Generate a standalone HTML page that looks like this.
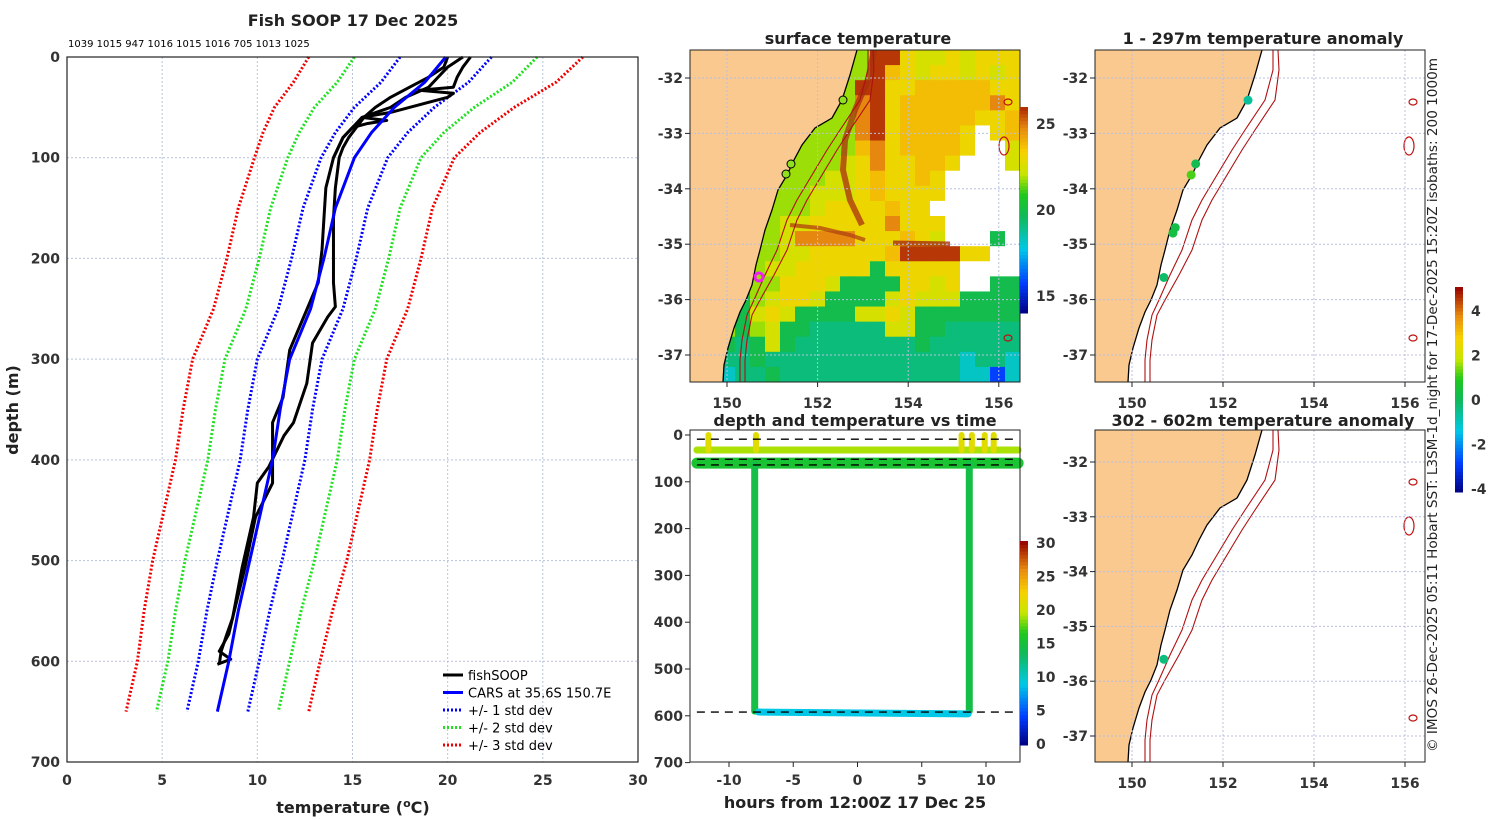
<!DOCTYPE html>
<html><head><meta charset="utf-8"><style>
body{margin:0;background:#fff;}
svg{display:block;font-family:"DejaVu Sans","Liberation Sans",sans-serif;}
.t{font-weight:bold;font-size:16px;fill:#222;}
.tk{font-weight:bold;font-size:14px;fill:#333;}
</style></head><body>
<svg id="fig" width="1500" height="820" viewBox="0 0 1500 820" xmlns="http://www.w3.org/2000/svg">
<g id="left"></g>
<g id="sst"></g>
<g id="dt"></g>
<g id="an1"></g>
<g id="an2"></g>
<text x="1437" y="405" transform="rotate(-90 1437 405)" text-anchor="middle" font-size="13.6" fill="#222">© IMOS 26-Dec-2025 05:11 Hobart SST: L3SM-1d_night for 17-Dec-2025 15:20Z isobaths: 200  1000m</text>
</svg>
<script>
// ---------- Profile data ----------
const carsDepth=[0,25,50,75,100,150,200,250,300,350,400,450,500,550,600,650];
const carsTemp=[19.9,18.8,17.2,16.0,15.1,14.1,13.5,12.8,11.7,11.2,10.8,10.2,9.6,9.0,8.5,7.9];
const carsStd=[2.4,2.3,2.1,1.9,1.75,1.7,1.7,1.7,1.7,1.7,1.7,1.7,1.7,1.65,1.6,1.6];
const p1Depth=[0,10,20,30,40,50,60,70,80,90,100,130,160,191,224,248,258,284,324,363,376,407,423,457,507,557,573,590,603];
const p1Temp=[20.0,19.8,19.0,18.0,17.0,16.2,15.6,15.2,14.8,14.5,14.3,14.1,14.0,14.0,14.0,14.1,13.7,12.9,12.6,11.9,11.4,10.6,10.0,9.8,9.2,8.7,8.4,8.1,8.0];
const p2Depth=[0,10,20,30,40,50,60,70,80,100,130,160,191,224,291,338,363,423,457,507,557,573,590,598,603];
const p2Temp=[20.8,20.0,19.5,19.0,17.8,17.0,15.5,15.0,14.5,14.0,13.6,13.5,13.4,13.2,11.7,11.35,10.8,10.8,9.9,9.35,8.7,8.5,8.0,8.6,7.9];
const p3Depth=[0,10,20,30,33,36,40,45,55,60,63,66,70,80,100];
const p3Temp=[21.2,20.8,20.5,20.3,18.5,20.3,20.0,19.0,17.0,15.5,16.8,15.8,15.0,14.5,14.0];
const castTemps=["1039","1015","947","1016","1015","1016","705","1013","1025"];
const xTicks=[0,5,10,15,20,25,30];
const yTicks=[0,100,200,300,400,500,600,700];

// ---------- SST map grid (codes -> temperature) ----------
const sstRows=[
"LLLLLLLLLLLejjgffgfggg","LLLLLLLLLLLejhgfggfgfg","LLLLLLLLLLejjgghhhhhgg","LLLLLLLLLLeijghhhhhhig",
"LLLLLLLLLeeijghhhhhggh","LLLLLLLLeeeijghhhhgWgh","LLLLLLLeeeehighhhhgWWf","LLLLLLLeeefgigghhgWWWf",
"LLLLLLeeeffghgghgWWWWW","LLLLLLeefffghggggWWWWW","LLLLLeeefgggghggWWWWWW","LLLLLeffgggggigggWWWWW",
"LLLLLefiiiiggghgfWWWdW","LLLLLeffggggghjjjjggWW","LLLLeffgggggdgggggWWWW","LLLLeegggfddddggfgWWdd",
"LLLdefggfddddfgfffdddd","LLLdfgfddddffgfddddddd","LLLdefddcccccffddccccc","LLdcdfdccccccccdcccccc",
"LLccdcccccccccccccbccb","LLbccdccccccccccccbbab"];
const codeTemp={a:15.8,b:18.2,c:19.2,d:19.9,e:21.8,f:22.5,g:23.1,h:23.8,i:24.8,j:25.8};
const sstTicks=[15,20,25];
// anomaly dots (lon, lat, anomaly)
const an1Lon=[152.55,151.4,151.3,150.95,150.9,150.7];
const an1Lat=[-32.4,-33.55,-33.75,-34.7,-34.8,-35.6];
const an1Val=[-0.6,0.2,1.2,0.3,0.4,-0.1];
const an2Lon=[150.7];const an2Lat=[-35.6];const an2Val=[-0.3];
const anTicks=[4,2,0,-2,-4];
// depth-time
const dtTicks=[0,100,200,300,400,500,600,700];
const hTicks=[-10,-5,0,5,10];
const tTicks=[0,5,10,15,20,25,30];
const segT0=[-12.5,-12.5,-8.0,8.7,-7.7];
const segT1=[12.5,12.5,-8.0,8.7,8.6];
const segD0=[32,60,62,62,592];
const segD1=[32,60,590,590,596];
const segTemp=[19.0,15.5,14.5,14.5,9.0];
const stubT=[-11.6,-7.9,8.1,8.9,9.9,10.6];
const dashD=[9,52,64,592];

const NS="http://www.w3.org/2000/svg";
function mk(p,tag,a,txt){const e=document.createElementNS(NS,tag);for(const k in a)e.setAttribute(k,a[k]);if(txt!==undefined)e.textContent=txt;p.appendChild(e);return e;}
function jet(v){
 const st=[[0,[0,0,128]],[0.14,[0,60,255]],[0.3,[0,200,230]],[0.45,[16,185,90]],[0.55,[30,200,30]],[0.65,[200,230,0]],[0.75,[248,210,0]],[0.86,[232,140,16]],[1,[150,0,0]]];
 v=Math.max(0,Math.min(1,v));
 for(let i=1;i<st.length;i++){if(v<=st[i][0]){const f=(v-st[i-1][0])/(st[i][0]-st[i-1][0]);const a=st[i-1][1],b=st[i][1];return `rgb(${a.map((x,j)=>Math.round(x+(b[j]-x)*f)).join(',')})`;}}
 return 'rgb(150,0,0)';
}
// ===== Left panel =====
const L=document.getElementById('left');
const X0=67,X1=638,Y0=57,Y1=762;
const xs=t=>X0+t*(X1-X0)/30, ys=d=>Y0+d*(Y1-Y0)/700;
xTicks.forEach(t=>{if(t>0&&t<30){const g=mk(L,'line',{x1:xs(t),x2:xs(t),y1:Y0,y2:Y1,stroke:'#b8c4dc','stroke-dasharray':'2 2','stroke-width':1});}
 const e=mk(L,'text',{x:xs(t),y:Y1+23,'text-anchor':'middle',class:'tk'},t);});
yTicks.forEach(d=>{if(d>0&&d<700){const g=mk(L,'line',{x1:X0,x2:X1,y1:ys(d),y2:ys(d),stroke:'#b8c4dc','stroke-dasharray':'2 2','stroke-width':1});}
 const e=mk(L,'text',{x:X0-7,y:ys(d)+5,'text-anchor':'end',class:'tk'},d);});
function poly(pts,attrs,name){const e=mk(L,'polyline',Object.assign({points:pts.map(p=>p.join(',')).join(' '),fill:'none'},attrs));return e;}
[[3,'#f00000','std3'],[2,'#20e020','std2'],[1,'#0000ff','std1']].forEach(([k,c,n])=>{
 poly(carsDepth.map((d,i)=>[xs(carsTemp[i]+k*carsStd[i]),ys(d)]),{stroke:c,'stroke-width':3,'stroke-dasharray':'2 2'},'cars-plus-'+n);
 poly(carsDepth.map((d,i)=>[xs(carsTemp[i]-k*carsStd[i]),ys(d)]),{stroke:c,'stroke-width':3,'stroke-dasharray':'2 2'},'cars-minus-'+n);
});
[[p1Depth,p1Temp],[p2Depth,p2Temp],[p3Depth,p3Temp]].forEach(([D,T],k)=>poly(D.map((d,i)=>[xs(T[i]),ys(d)]),{stroke:'#000','stroke-width':3,'stroke-linejoin':'round'},'fishsoop-profile-'+(k+1)));
poly(carsDepth.map((d,i)=>[xs(carsTemp[i]),ys(d)]),{stroke:'#0000ff','stroke-width':3},'cars-profile');
{const e=mk(L,'rect',{x:X0,y:Y0,width:X1-X0,height:Y1-Y0,fill:'none',stroke:'#222','stroke-width':1.2});}
{const e=mk(L,'text',{x:353,y:26,'text-anchor':'middle',class:'t','font-size':17},'Fish SOOP 17 Dec 2025');}
{const e=mk(L,'text',{x:68,y:47,'font-size':10,fill:'#000'},castTemps.join(' '));}
{const e=mk(L,'text',{x:353,y:813,'text-anchor':'middle',class:'t'});
 e.innerHTML='temperature (<tspan dy="-6" font-size="11">o</tspan><tspan dy="6">C)</tspan>';}
{const e=mk(L,'text',{x:18,y:410,'text-anchor':'middle',class:'t',transform:'rotate(-90 18 410)'},'depth (m)');}
[['fishSOOP','#000',''],['CARS at 35.6S 150.7E','#0000ff',''],['+/- 1 std dev','#0000ff','2 2'],['+/- 2 std dev','#20e020','2 2'],['+/- 3 std dev','#f00000','2 2']].forEach((it,i)=>{
 const y=675+i*17.5;const g=mk(L,'g',{});
 mk(g,'line',{x1:443,x2:463,y1:y,y2:y,stroke:it[1],'stroke-width':3,'stroke-dasharray':it[2]||'none'});
 mk(g,'text',{x:468,y:y+5,'font-size':13,fill:'#000'},it[0]);});

// ===== map helpers =====
const coastLine=[[167,0],[160,25],[152,50],[142,68],[125,78],[112,95],[104,110],[97,125],[88,140],[82,160],[75,180],[70,200],[66,215],[62,235],[56,250],[50,262],[44,278],[38,298],[34,315],[33,332]];
const iso1=[[178,0],[178,20],[170,50],[150,80],[137,100],[125,120],[107,150],[97,170],[87,200],[75,225],[64,250],[57,265],[52,290],[50,310],[50,332]];
const iso2=[[183,0],[184,20],[180,50],[160,80],[147,100],[135,120],[117,150],[107,170],[97,200],[84,225],[70,250],[62,265],[57,290],[55,310],[55,332]];
function mapFrame(G,ox,oy,lonPx,latPx,lat0y,showLonLabels,title,titleY){
 const W=330,H=332;
 [150,152,154,156].forEach(lo=>{const x=ox+37+(lo-150)*lonPx;const e=mk(G,'line',{x1:x,x2:x,y1:oy,y2:oy+H,stroke:'#b8c0e0','stroke-dasharray':'2 2'});
  mk(G,'line',{x1:x,x2:x,y1:oy+H,y2:oy+H+5,stroke:'#222'});
  if(showLonLabels){const t=mk(G,'text',{x:x,y:oy+H+26,'text-anchor':'middle',class:'tk'},lo);}});
 [-32,-33,-34,-35,-36,-37].forEach(la=>{const y=oy+lat0y+(-32-la)*latPx;const e=mk(G,'line',{x1:ox,x2:ox+W,y1:y,y2:y,stroke:'#b8c0e0','stroke-dasharray':'2 2'});
  mk(G,'line',{x1:ox-5,x2:ox,y1:y,y2:y,stroke:'#222'});
  const t=mk(G,'text',{x:ox-7,y:y+5,'text-anchor':'end',class:'tk'},la);});
 const tt=mk(G,'text',{x:ox+W/2+3,y:titleY,'text-anchor':'middle',class:'t'},title);
}
function landAndCoast(G,ox,oy,drawLand){
 const P=coastLine.map(p=>[ox+p[0],oy+p[1]]);
 if(drawLand){const e=mk(G,'polygon',{points:[[ox,oy]].concat(P,[[ox,oy+332]]).map(p=>p.join(',')).join(' '),fill:'#f9c98f'});}
 const c=mk(G,'polyline',{points:P.map(p=>p.join(',')).join(' '),fill:'none',stroke:'#000','stroke-width':1.3});
 [iso1,iso2].forEach((iso,k)=>{const e=mk(G,'polyline',{points:iso.map(p=>(ox+p[0])+','+(oy+p[1])).join(' '),fill:'none',stroke:'#b01010','stroke-width':1.1});});
 [[318,52,4,3],[314,96,5,9],[318,288,4,3]].forEach(b=>{const e=mk(G,'ellipse',{cx:ox+b[0],cy:oy+b[1],rx:b[2],ry:b[3],fill:'none',stroke:'#c01010','stroke-width':1.2});});
}
// ===== SST map =====
const S=document.getElementById('sst');
const cw=15,ch=332/22;
sstRows.forEach((row,r)=>{[...row].forEach((c,k)=>{
 let fill;if(c==='L')fill=jet((codeTemp.e-14)/12.5);else if(c==='W')fill='#ffffff';else fill=jet((codeTemp[c]-14)/12.5);
 const e=mk(S,'rect',{x:690+k*cw,y:50+r*ch,width:cw+0.5,height:ch+0.5,fill:fill});
 
 });});
{const e=mk(S,'polyline',{points:'874,50 868,80 855,110 845,140 843,170 850,200 862,225',fill:'none',stroke:'#a83010','stroke-width':6,opacity:0.75});}
{const e=mk(S,'polyline',{points:'790,225 820,228 850,235 865,240',fill:'none',stroke:'#b04010','stroke-width':4,opacity:0.75});}
{const e=mk(S,'polyline',{points:'893,243 950,244',fill:'none',stroke:'#a83010','stroke-width':5,opacity:0.8});}
landAndCoast(S,690,50,true);
mapFrame(S,690,50,45.3,55.4,28,true,'surface temperature',44);
[[843,100],[791,164],[786,174]].forEach(p=>{const e=mk(S,'circle',{cx:p[0],cy:p[1],r:4,fill:'#90e020',stroke:'#000'});});
{const e=mk(S,'circle',{cx:759,cy:277,r:4,fill:'none',stroke:'#f020f0','stroke-width':3});}
{const e=mk(S,'rect',{x:690,y:50,width:330,height:332,fill:'none',stroke:'#222'});}
for(let i=0;i<60;i++){const v=14+(i+0.5)*12/60;const y=313-(i+1)*206/60;const e=mk(S,'rect',{x:1020,y:y,width:8,height:206/60+0.5,fill:jet((v-14)/12.5)});}
sstTicks.forEach(v=>{const y=313-(v-14)*206/12;const e=mk(S,'text',{x:1036,y:y+5,class:'tk','font-size':13},v);});

// ===== Depth-time =====
const D=document.getElementById('dt');
const tx=h=>857.5+h*12.85, dy=d=>435+d*0.468;
dtTicks.forEach(d=>{mk(D,'line',{x1:685,x2:690,y1:dy(d),y2:dy(d),stroke:'#222'});const e=mk(D,'text',{x:683,y:dy(d)+5,'text-anchor':'end',class:'tk'},d);});
hTicks.forEach(h=>{mk(D,'line',{x1:tx(h),x2:tx(h),y1:762,y2:767,stroke:'#222'});const e=mk(D,'text',{x:tx(h),y:785,'text-anchor':'middle',class:'tk'},h);});
segT0.forEach((t0,i)=>{const e=mk(D,'line',{x1:tx(t0),x2:tx(segT1[i]),y1:dy(segD0[i]),y2:dy(segD1[i]),stroke:jet(segTemp[i]/30),'stroke-width':i===1?11:7,'stroke-linecap':'round'});
 
 });
stubT.forEach(t=>{const e=mk(D,'line',{x1:tx(t),x2:tx(t),y1:dy(0),y2:dy(32),stroke:jet(21/30),'stroke-width':6,'stroke-linecap':'round'});});
dashD.forEach(d=>{const e=mk(D,'line',{x1:tx(-12.5),x2:tx(12.5),y1:dy(d),y2:dy(d),stroke:'#000','stroke-width':1.3,'stroke-dasharray':'8 6'});});
{const e=mk(D,'rect',{x:690,y:430,width:330,height:332,fill:'none',stroke:'#222'});}
{const e=mk(D,'text',{x:855,y:426,'text-anchor':'middle',class:'t'},'depth and temperature vs time');}
{const e=mk(D,'text',{x:855,y:808,'text-anchor':'middle',class:'t'},'hours from 12:00Z 17 Dec 25');}
for(let i=0;i<60;i++){const y=745-(i+1)*204/60;const e=mk(D,'rect',{x:1020,y:y,width:8,height:204/60+0.5,fill:jet((i+0.5)/60)});}
tTicks.forEach(v=>{const y=744-v*201/30;const e=mk(D,'text',{x:1036,y:y+5,class:'tk','font-size':13},v);});

// ===== Anomaly maps =====
function anomMap(id,oy,latPx,lat0y,title,titleY,showLon,lons,lats,vals){
 const G=document.getElementById(id);
 landAndCoast(G,1095,oy,true);
 mapFrame(G,1095,oy,45.5,latPx,lat0y,showLon,title,titleY);
 lons.forEach((lo,i)=>{const e=mk(G,'circle',{cx:1095+37+(lo-150)*45.5,cy:oy+lat0y+(-32-lats[i])*latPx,r:4.5,fill:jet((vals[i]+4.1)/9.2)});
  
  });
 const f=mk(G,'rect',{x:1095,y:oy,width:330,height:332,fill:'none',stroke:'#222'});
}
anomMap('an1',50,55.4,28,'1 - 297m temperature anomaly',44,true,an1Lon,an1Lat,an1Val);
anomMap('an2',430,54.8,32,'302 - 602m temperature anomaly',426,true,an2Lon,an2Lat,an2Val);
{const A=document.getElementById('an1');
 for(let i=0;i<60;i++){const y=492-(i+1)*205/60;const e=mk(A,'rect',{x:1455,y:y,width:8,height:205/60+0.5,fill:jet((i+0.5)/60)});}
 anTicks.forEach(v=>{const y=400-v*22.25;const e=mk(A,'text',{x:1471,y:y+5,class:'tk','font-size':13},v);});}
</script>
</body></html>
